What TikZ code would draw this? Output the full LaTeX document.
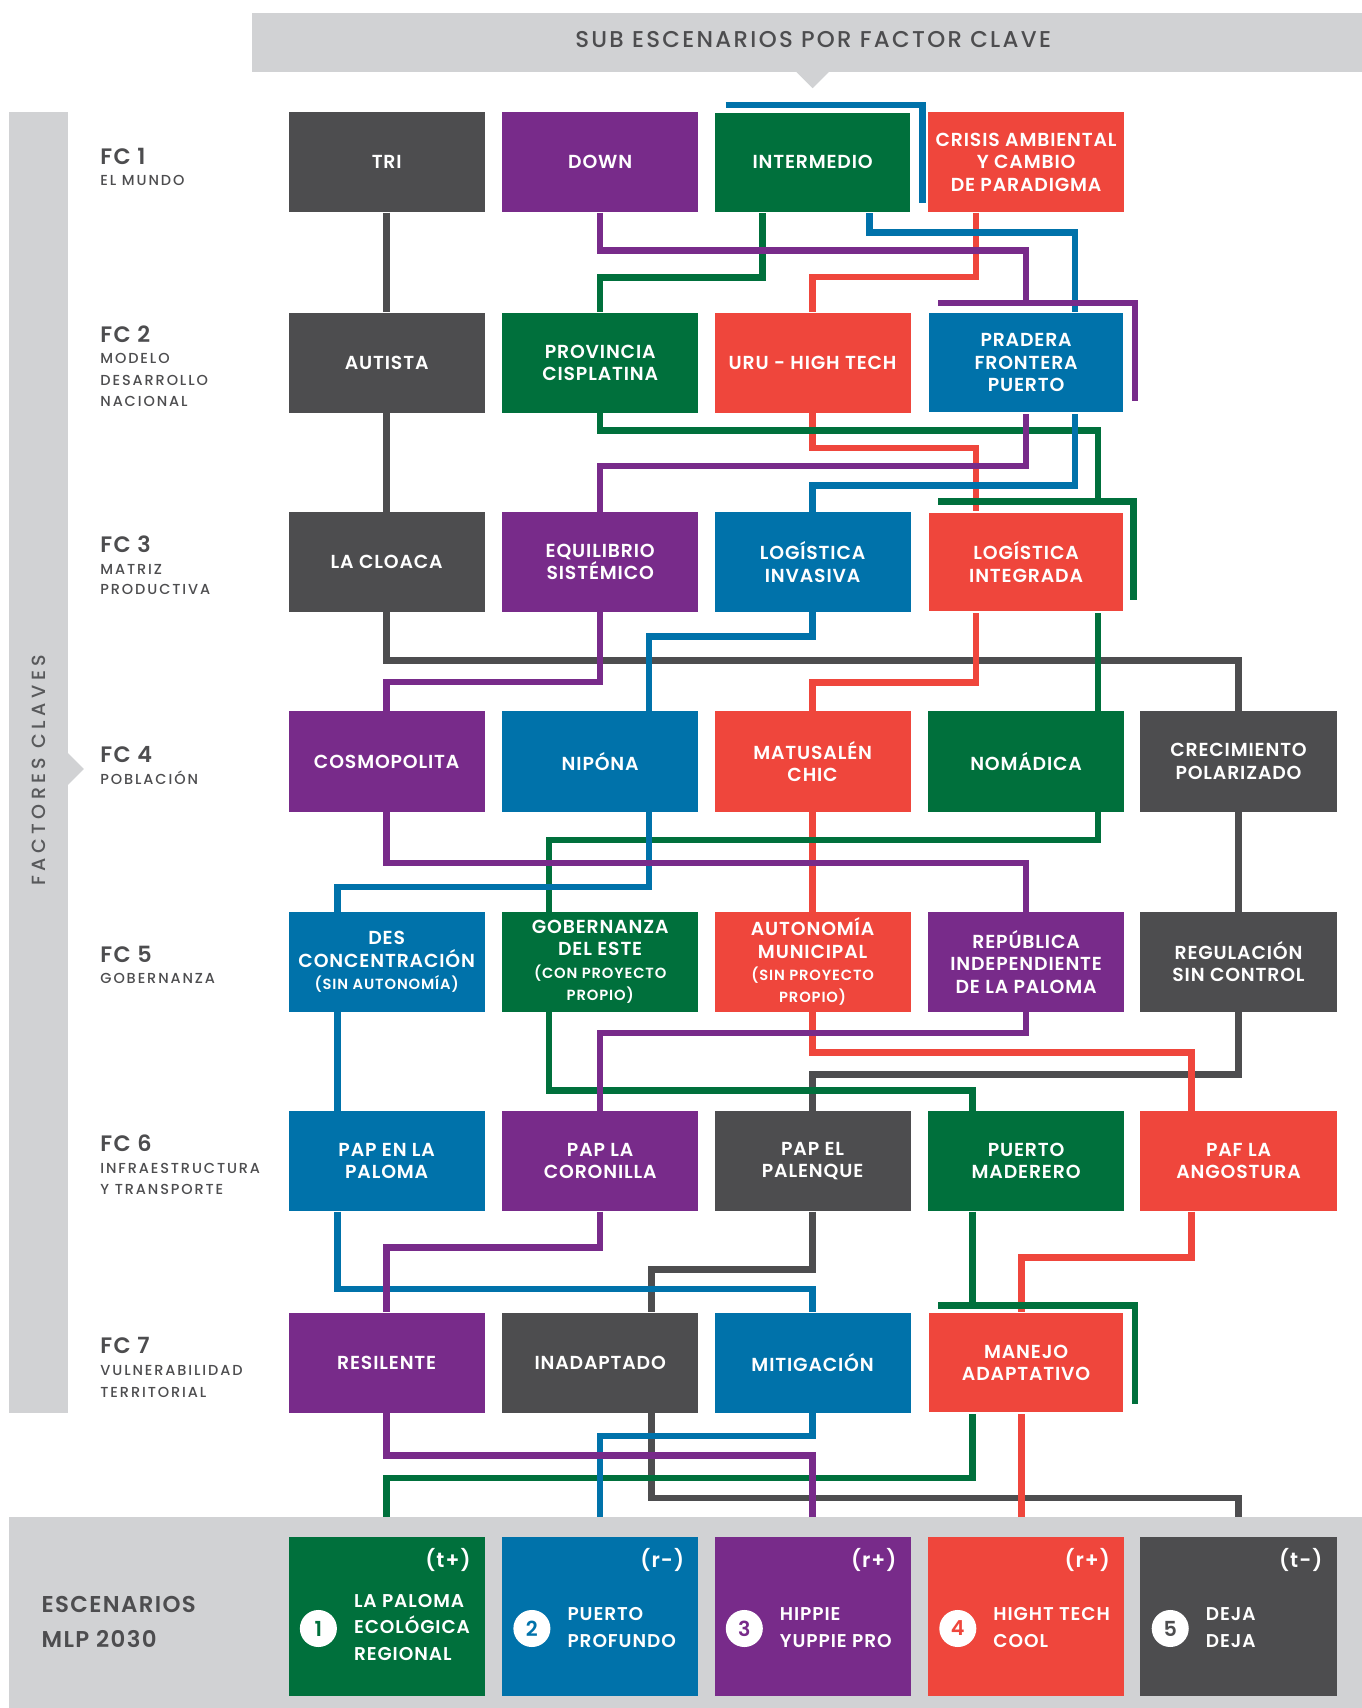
\documentclass[tikz,border=0pt]{standalone}
\usepackage{fontspec}
\setmainfont{Poppins}
\newfontfamily\pmed{Poppins Medium}
\newfontfamily\pbold{Poppins SemiBold}
\usetikzlibrary{calc}
\definecolor{cg}{HTML}{4D4D4F}
\definecolor{cp}{HTML}{782B8A}
\definecolor{cgr}{HTML}{00703C}
\definecolor{cr}{HTML}{EF463C}
\definecolor{cb}{HTML}{0072AA}
\definecolor{cl}{HTML}{D1D2D4}
\definecolor{ct}{HTML}{58595B}
\newcommand\boxfont{\pbold\addfontfeature{LetterSpace=4.5}\fontsize{17.3}{20.5}\selectfont}
\newcommand\smalllab{\addfontfeature{LetterSpace=6}\fontsize{13.5}{15.5}\selectfont}
\newcommand\fcbig{\pbold\addfontfeature{LetterSpace=6}\fontsize{20.5}{20.5}\selectfont}
\newcommand\fcsmall{\pmed\addfontfeature{LetterSpace=13}\fontsize{13.3}{13.3}\selectfont}
\newcommand\scfont{\pbold\addfontfeature{LetterSpace=5}\fontsize{17}{24.5}\selectfont}
\pgfdeclarelayer{lines}
\pgfsetlayers{lines,main}
\begin{document}
\begin{tikzpicture}[x=1pt,y=-1pt,
  bx/.style={minimum width=180pt,minimum height=92pt,inner sep=0pt,align=center,text=white,font=\boxfont},
  framed/.style={draw=white,line width=1.5pt},
  sc/.style={minimum width=180pt,minimum height=146pt,inner sep=0pt},
  numc/.style={circle,fill=white,minimum size=34pt,inner sep=0pt,font=\pbold\fontsize{19}{19}\selectfont},
  sctext/.style={anchor=west,align=left,inner sep=0pt,text=white,font=\scfont},
  tag/.style={anchor=east,inner sep=0pt,text=white,font=\pbold\addfontfeature{LetterSpace=5}\fontsize{19}{19}\selectfont},
  fcA/.style={anchor=base west,inner sep=0pt,text=cg,font=\fcbig},
  fcB/.style={anchor=base west,inner sep=0pt,text=cg,font=\fcsmall},
  ln/.style={line width=6pt,line join=miter,line cap=butt}]
\useasboundingbox (0,0) rectangle (1250,1568);

% header
\node[fill=cl,minimum width=1019pt,minimum height=54pt,inner sep=0pt,anchor=north west] (head) at (231,12) {};
\fill[cl] (730,65) -- (762,65) -- (746,81) -- cycle;
\node[text=cg,inner sep=0pt,font=\pmed\addfontfeature{LetterSpace=10}\fontsize{21}{21}\selectfont] (headtxt) at (746.5,36) {SUB ESCENARIOS POR FACTOR CLAVE};

% left bar
\node[fill=cl,minimum width=54pt,minimum height=1194pt,inner sep=0pt,anchor=north west] (lbar) at (8,103) {};
\fill[cl] (61,690) -- (77,706) -- (61,722) -- cycle;
\node[rotate=90,text=ct,inner sep=0pt,font=\pmed\addfontfeature{LetterSpace=23}\fontsize{17.5}{17.5}\selectfont] (lbtxt) at (36,707) {FACTORES CLAVES};

% bottom band
\node[fill=cl,minimum width=1242pt,minimum height=176pt,inner sep=0pt,anchor=north west] (band) at (8,1392) {};
\node[anchor=base west,inner sep=0pt,text=cg,font=\pbold\addfontfeature{LetterSpace=6}\fontsize{21}{21}\selectfont] (esc1) at (38,1480) {ESCENARIOS};
\node[anchor=base west,inner sep=0pt,text=cg,font=\pbold\addfontfeature{LetterSpace=6}\fontsize{21}{21}\selectfont] (esc2) at (38,1512) {MLP 2030};

% side labels
\node[fcA] (fc1) at (92,151) {FC 1};
\node[fcB] (fc1a) at (92,170) {EL MUNDO};
\node[fcA] (fc2) at (92,314) {FC 2};
\node[fcB] (fc2a) at (92,334) {MODELO};
\node[fcB] (fc2b) at (92,354) {DESARROLLO};
\node[fcB] (fc2c) at (92,373) {NACIONAL};
\node[fcA] (fc3) at (92,507) {FC 3};
\node[fcB] (fc3a) at (92,527) {MATRIZ};
\node[fcB] (fc3b) at (92,546) {PRODUCTIVA};
\node[fcA] (fc4) at (92,700) {FC 4};
\node[fcB] (fc4a) at (92,720) {POBLACIÓN};
\node[fcA] (fc5) at (92,884) {FC 5};
\node[fcB] (fc5a) at (92,903) {GOBERNANZA};
\node[fcA] (fc6) at (92,1057) {FC 6};
\node[fcB] (fc6a) at (92,1077) {INFRAESTRUCTURA};
\node[fcB] (fc6b) at (92,1097) {Y TRANSPORTE};
\node[fcA] (fc7) at (92,1243) {FC 7};
\node[fcB] (fc7a) at (92,1263) {VULNERABILIDAD};
\node[fcB] (fc7b) at (92,1283) {TERRITORIAL};

% row 1
\node[bx,fill=cg] (tri) at (355,149) {TRI};
\node[bx,fill=cp] (down) at (551,149) {DOWN};
\node[bx,fill=cgr,framed] (inter) at (746,149) {INTERMEDIO};
\node[bx,fill=cr] (crisis) at (942,149) {CRISIS AMBIENTAL\\Y CAMBIO\\DE PARADIGMA};
% row 2
\node[bx,fill=cg] (autista) at (355,333) {AUTISTA};
\node[bx,fill=cgr] (prov) at (551,333) {PROVINCIA\\CISPLATINA};
\node[bx,fill=cr] (uru) at (746,333) {URU - HIGH TECH};
\node[bx,fill=cb,framed] (prad) at (942,333) {PRADERA\\FRONTERA\\PUERTO};
% row 3
\node[bx,fill=cg] (cloaca) at (355,516) {LA CLOACA};
\node[bx,fill=cp] (equil) at (551,516) {EQUILIBRIO\\SISTÉMICO};
\node[bx,fill=cb] (invas) at (746,516) {LOGÍSTICA\\INVASIVA};
\node[bx,fill=cr,framed] (integ) at (942,516) {LOGÍSTICA\\INTEGRADA};
% row 4
\node[bx,fill=cp] (cosmo) at (355,699) {COSMOPOLITA};
\node[bx,fill=cb] (nipona) at (551,699) {NIPÓNA};
\node[bx,fill=cr] (matus) at (746,699) {MATUSALÉN\\CHIC};
\node[bx,fill=cgr] (nomad) at (942,699) {NOMÁDICA};
\node[bx,fill=cg] (crec) at (1137,699) {CRECIMIENTO\\POLARIZADO};
% row 5
\node[bx,fill=cb] (desc) at (355,883) {DES\\CONCENTRACIÓN\\\smalllab (SIN AUTONOMÍA)};
\node[bx,fill=cgr] (gober) at (551,883) {GOBERNANZA\\DEL ESTE\\\smalllab (CON PROYECTO\\\smalllab PROPIO)};
\node[bx,fill=cr] (auton) at (746,883) {AUTONOMÍA\\MUNICIPAL\\\smalllab (SIN PROYECTO\\\smalllab PROPIO)};
\node[bx,fill=cp] (repub) at (942,883) {REPÚBLICA\\INDEPENDIENTE\\DE LA PALOMA};
\node[bx,fill=cg] (regul) at (1137,883) {REGULACIÓN\\SIN CONTROL};
% row 6
\node[bx,fill=cb] (papen) at (355,1066) {PAP EN LA\\PALOMA};
\node[bx,fill=cp] (paplc) at (551,1066) {PAP LA\\CORONILLA};
\node[bx,fill=cg] (pappal) at (746,1066) {PAP EL\\PALENQUE};
\node[bx,fill=cgr] (puerto) at (942,1066) {PUERTO\\MADERERO};
\node[bx,fill=cr] (paf) at (1137,1066) {PAF LA\\ANGOSTURA};
% row 7
\node[bx,fill=cp] (resil) at (355,1251) {RESILENTE};
\node[bx,fill=cg] (inad) at (551,1251) {INADAPTADO};
\node[bx,fill=cb] (mitig) at (746,1251) {MITIGACIÓN};
\node[bx,fill=cr,framed] (manejo) at (942,1251) {MANEJO\\ADAPTATIVO};

% scenarios
\node[sc,fill=cgr] (s1) at (355,1484) {};
\node[sc,fill=cb] (s2) at (551,1484) {};
\node[sc,fill=cp] (s3) at (746,1484) {};
\node[sc,fill=cr] (s4) at (942,1484) {};
\node[sc,fill=cg] (s5) at (1137,1484) {};
\node[numc,text=cgr] (n1) at ([xshift=27.5pt,yshift=-11pt]s1.west) {1};
\node[numc,text=cb] (n2) at ([xshift=27.5pt,yshift=-11pt]s2.west) {2};
\node[numc,text=cp] (n3) at ([xshift=27.5pt,yshift=-11pt]s3.west) {3};
\node[numc,text=cr] (n4) at ([xshift=27.5pt,yshift=-11pt]s4.west) {4};
\node[numc,text=cg] (n5) at ([xshift=27.5pt,yshift=-11pt]s5.west) {5};
\node[sctext] (t1) at ([xshift=60pt,yshift=-10pt]s1.west) {LA PALOMA\\ECOLÓGICA\\REGIONAL};
\node[sctext] (t2) at ([xshift=60pt,yshift=-10pt]s2.west) {PUERTO\\PROFUNDO};
\node[sctext] (t3) at ([xshift=60pt,yshift=-10pt]s3.west) {HIPPIE\\YUPPIE PRO};
\node[sctext] (t4) at ([xshift=60pt,yshift=-10pt]s4.west) {HIGHT TECH\\COOL};
\node[sctext] (t5) at ([xshift=60pt,yshift=-10pt]s5.west) {DEJA\\DEJA};
\node[tag] (g1) at ([xshift=-13pt,yshift=52pt]s1.east) {(t+)};
\node[tag] (g2) at ([xshift=-13pt,yshift=52pt]s2.east) {(r-)};
\node[tag] (g3) at ([xshift=-13pt,yshift=52pt]s3.east) {(r+)};
\node[tag] (g4) at ([xshift=-13pt,yshift=52pt]s4.east) {(r+)};
\node[tag] (g5) at ([xshift=-13pt,yshift=52pt]s5.east) {(t-)};

\begin{pgfonlayer}{lines}
% gray scenario
\draw[ln,cg] (tri.south) -- (autista.north);
\draw[ln,cg] (autista.south) -- (cloaca.north);
\draw[ln,cg] (cloaca.south) -- ++(0,44) -| (crec.north);
\draw[ln,cg] (crec.south) -- (regul.north);
\draw[ln,cg] (regul.south) -- ++(0,57) -| (pappal.north);
\draw[ln,cg] (pappal.south) -- ++(0,53) -| ([xshift=47pt]inad.north);
\draw[ln,cg] ([xshift=47pt]inad.south) -- ++(0,78) -| (s5.north);
% red scenario
\draw[ln,cr] ([xshift=-46pt]crisis.south) -- ++(0,59) -| (uru.north);
\draw[ln,cr] (uru.south) -- ++(0,32) -| ([xshift=-46pt]integ.north);
\draw[ln,cr] ([xshift=-46pt]integ.south) -- ++(0,64) -| (matus.north);
\draw[ln,cr] (matus.south) -- (auton.north);
\draw[ln,cr] (auton.south) -- ++(0,37) -| ([xshift=-43pt]paf.north);
\draw[ln,cr] ([xshift=-43pt]paf.south) -- ++(0,42) -| ([xshift=-4pt]manejo.north);
\draw[ln,cr] ([xshift=-4pt]manejo.south) -- ([xshift=-4pt]s4.north);
% green scenario
\draw[ln,cgr] ([xshift=-46pt]inter.south) -- ++(0,59) -| (prov.north);
\draw[ln,cgr] (prov.south) -- ++(0,16) -| ([xshift=66pt,yshift=8pt]integ.north);
\draw[ln,cgr] ([xshift=66pt]integ.south) -- ([xshift=66pt]nomad.north);
\draw[ln,cgr] ([xshift=66pt]nomad.south) -- ++(0,26) -| ([xshift=-47pt]gober.north);
\draw[ln,cgr] ([xshift=-47pt]gober.south) -- ++(0,72) -| ([xshift=-49pt]puerto.north);
\draw[ln,cgr] ([xshift=-49pt]puerto.south) -- ([xshift=-49pt,yshift=6pt]manejo.north);
\draw[ln,cgr] ([xshift=-49pt]manejo.south) -- ++(0,59) -| (s1.north);
% blue scenario
\draw[ln,cb] ([xshift=52pt]inter.south) -- ++(0,17.5) -| ([xshift=45pt]prad.north);
\draw[ln,cb] ([xshift=45pt]prad.south) -- ++(0,66) -| (invas.north);
\draw[ln,cb] (invas.south) -- ++(0,22) -| ([xshift=45pt]nipona.north);
\draw[ln,cb] ([xshift=45pt]nipona.south) -- ++(0,69) -| ([xshift=-45pt]desc.north);
\draw[ln,cb] ([xshift=-45pt]desc.south) -- ([xshift=-45pt]papen.north);
\draw[ln,cb] ([xshift=-45pt]papen.south) -- ++(0,71) -| (mitig.north);
\draw[ln,cb] (mitig.south) -- ++(0,21) -| (s2.north);
% purple scenario
\draw[ln,cp] (down.south) -- ++(0,35) -| ([yshift=8pt]prad.north);
\draw[ln,cp] (prad.south) -- ++(0,48) -| (equil.north);
\draw[ln,cp] (equil.south) -- ++(0,64) -| (cosmo.north);
\draw[ln,cp] (cosmo.south) -- ++(0,47) -| (repub.north);
\draw[ln,cp] (repub.south) -- ++(0,19) -| (paplc.north);
\draw[ln,cp] (paplc.south) -- ++(0,33) -| (resil.north);
\draw[ln,cp] (resil.south) -- ++(0,39) -| (s3.north);
% frames behind boxes
\draw[ln,cb] ([shift={(11pt,6pt)}]inter.north west) -| ([shift={(10pt,9pt)}]inter.south east);
\draw[ln,cp] ([shift={(10pt,8pt)}]prad.north west) -| ([shift={(9pt,12pt)}]prad.south east);
\draw[ln,cgr] ([shift={(10pt,9pt)}]integ.north west) -| ([shift={(8pt,12pt)}]integ.south east);
\draw[ln,cgr] ([shift={(10pt,6pt)}]manejo.north west) -| ([shift={(9pt,9pt)}]manejo.south east);
\end{pgfonlayer}
\end{tikzpicture}
\end{document}
